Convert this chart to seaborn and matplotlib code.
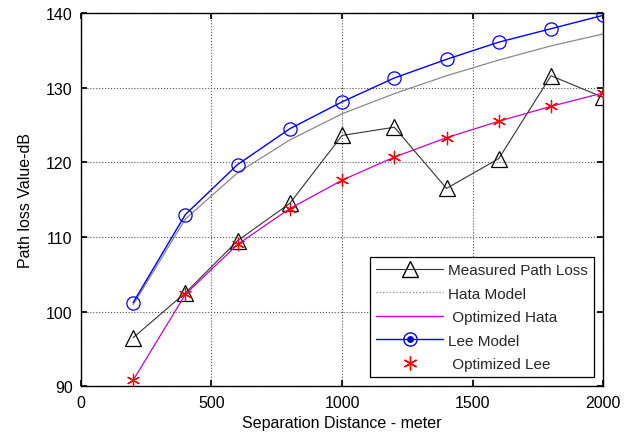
import matplotlib
matplotlib.use("Agg")
import matplotlib.pyplot as plt
import seaborn as sns
import pandas as pd
from matplotlib.lines import Line2D
from matplotlib.legend_handler import HandlerTuple

distance = [200, 400, 600, 800, 1000, 1200, 1400, 1600, 1800, 2000]
measured = [96.5, 102.5, 109.5, 114.5, 123.6, 124.7, 116.5, 120.5, 131.6, 128.7]
hata = [100.9, 112.4, 118.6, 123.0, 126.5, 129.2, 131.6, 133.7, 135.6, 137.2]
opt_hata = [90.8, 102.3, 109.0, 113.8, 117.6, 120.7, 123.3, 125.5, 127.5, 129.3]
lee = [101.2, 113.0, 119.7, 124.5, 128.1, 131.3, 133.8, 136.1, 137.9, 139.7]
opt_lee = [90.8, 102.3, 109.0, 113.8, 117.6, 120.7, 123.3, 125.5, 127.5, 129.3]

labels = ["Measured Path Loss", "Hata Model", " Optimized Hata", "Lee Model", " Optimized Lee"]

sns.set_theme(style="white")
plt.rcParams['font.family'] = ['Liberation Sans', 'DejaVu Sans']

fig = plt.figure(figsize=(6.37, 4.39), dpi=100)
ax = fig.add_axes([0.127, 0.118, 0.820, 0.850])

df = pd.DataFrame({"d": distance, "measured": measured, "hata": hata,
                   "opt_hata": opt_hata, "lee": lee, "opt_lee": opt_lee})

sns.lineplot(data=df, x="d", y="hata", ax=ax, color="#888888", linewidth=0.9)
sns.lineplot(data=df, x="d", y="measured", ax=ax, color="#333333", linewidth=0.8,
             marker="^", markersize=11, markerfacecolor="none",
             markeredgecolor="black", markeredgewidth=0.9)
sns.lineplot(data=df, x="d", y="opt_hata", ax=ax, color="#cc00cc", linewidth=0.9)
sns.lineplot(data=df, x="d", y="lee", ax=ax, color="#0000ff", linewidth=1.0,
             marker="o", markersize=9.5, markerfacecolor="none",
             markeredgecolor="#0000ff", markeredgewidth=0.9)
sns.scatterplot(data=df, x="d", y="opt_lee", ax=ax, color="red", marker=(6, 2, 0),
                s=80, linewidth=0.9, edgecolor="red", zorder=5)

ax.set_xlim(0, 2000)
ax.set_ylim(90, 140)
ax.set_xticks([0, 500, 1000, 1500, 2000])
ax.set_yticks([90, 100, 110, 120, 130, 140])
ax.grid(True, color="#555555", linestyle=":", linewidth=0.8)
ax.tick_params(direction="in", length=4, labelsize=11.5, colors="black", pad=6,
               top=True, right=True, bottom=True, left=True)
for s in ax.spines.values():
    s.set_color("black")
    s.set_linewidth(1.0)
ax.set_xlabel("Separation Distance - meter", fontsize=11.5, color="black", labelpad=4)
ax.set_ylabel("Path loss Value-dB", fontsize=11.5, color="black", labelpad=9)

h_meas = Line2D([], [], color="#333333", linewidth=0.8, marker="^", markersize=11,
                markerfacecolor="none", markeredgecolor="black")
h_hata = Line2D([], [], color="#888888", linewidth=0.9, linestyle=":")
h_oh = Line2D([], [], color="#cc00cc", linewidth=1.0)
h_lee = (Line2D([], [], color="#0000ff", linewidth=1.0, marker="o", markersize=9.5,
                markerfacecolor="none", markeredgecolor="#0000ff"),
         Line2D([], [], linestyle="none", marker="o", markersize=4, color="#0000ff"))
h_ol = Line2D([], [], linestyle="none", marker=(6, 2, 0), markersize=10,
              color="red", markeredgecolor="red")
leg = ax.legend([h_meas, h_hata, h_oh, h_lee, h_ol], labels,
                handler_map={tuple: HandlerTuple(ndivide=1)},
                loc="lower right", bbox_to_anchor=(0.983, 0.024),
                fontsize=11, frameon=True, fancybox=False, framealpha=1,
                edgecolor="black", handlelength=4.4, labelspacing=0.62,
                borderpad=0.4, handletextpad=0.35, borderaxespad=0.0)
leg.get_frame().set_linewidth(0.9)

fig.savefig("out.png", dpi=100)
